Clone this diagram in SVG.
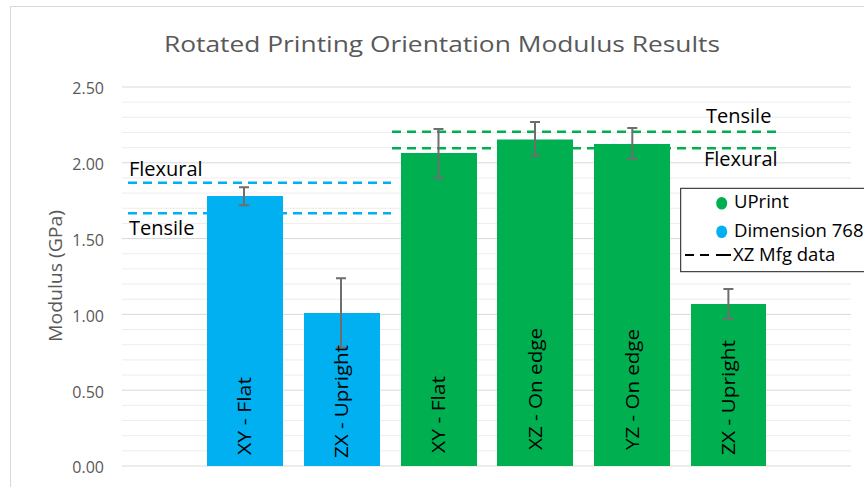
<svg xmlns="http://www.w3.org/2000/svg" width="864" height="487" viewBox="0 0 864 487">
<style>
.minor{stroke:#ededed;stroke-width:1}
.major{stroke:#d9d9d9;stroke-width:1}
.tick{font-family:"Open Sans","DejaVu Sans",sans-serif;font-size:16px;fill:#595959;text-anchor:end}
.lbl{font-family:"Open Sans","DejaVu Sans",sans-serif;font-size:20px;fill:#000}
.cat{font-family:"Open Sans","DejaVu Sans",sans-serif;font-size:19px;fill:#000}
.leg{font-family:"Open Sans","DejaVu Sans",sans-serif;font-size:18.5px;fill:#000}
.blue{fill:#00b0f0}
.green{fill:#00b050}
.dashB{stroke:#00b0f0;stroke-width:2.5;stroke-dasharray:9 6;fill:none}
.dashG{stroke:#00b050;stroke-width:2.5;stroke-dasharray:9 6;fill:none}
.err{stroke:#6e6e6e;stroke-width:2;fill:none}
</style>
<rect x="0" y="0" width="864" height="487" fill="#fff"/>
<rect x="10.5" y="6.5" width="870" height="500" fill="#fff" stroke="#d9d9d9" stroke-width="1"/>
<text x="164" y="52" font-family="'Open Sans','DejaVu Sans',sans-serif" font-size="22" fill="#595959" textLength="556" lengthAdjust="spacingAndGlyphs">Rotated Printing Orientation Modulus Results</text>
<g id="gridlines">
<line class="minor" x1="122" x2="851" y1="450.84" y2="450.84"/>
<line class="minor" x1="122" x2="851" y1="435.68" y2="435.68"/>
<line class="minor" x1="122" x2="851" y1="420.52" y2="420.52"/>
<line class="minor" x1="122" x2="851" y1="405.36" y2="405.36"/>
<line class="minor" x1="122" x2="851" y1="375.04" y2="375.04"/>
<line class="minor" x1="122" x2="851" y1="359.88" y2="359.88"/>
<line class="minor" x1="122" x2="851" y1="344.72" y2="344.72"/>
<line class="minor" x1="122" x2="851" y1="329.56" y2="329.56"/>
<line class="minor" x1="122" x2="851" y1="299.24" y2="299.24"/>
<line class="minor" x1="122" x2="851" y1="284.08" y2="284.08"/>
<line class="minor" x1="122" x2="851" y1="268.92" y2="268.92"/>
<line class="minor" x1="122" x2="851" y1="253.76" y2="253.76"/>
<line class="minor" x1="122" x2="851" y1="223.44" y2="223.44"/>
<line class="minor" x1="122" x2="851" y1="208.28" y2="208.28"/>
<line class="minor" x1="122" x2="851" y1="193.12" y2="193.12"/>
<line class="minor" x1="122" x2="851" y1="177.96" y2="177.96"/>
<line class="minor" x1="122" x2="851" y1="147.64" y2="147.64"/>
<line class="minor" x1="122" x2="851" y1="132.48" y2="132.48"/>
<line class="minor" x1="122" x2="851" y1="117.32" y2="117.32"/>
<line class="minor" x1="122" x2="851" y1="102.16" y2="102.16"/>
<line class="major" x1="122" x2="851" y1="87" y2="87"/>
<line class="major" x1="122" x2="851" y1="162.8" y2="162.8"/>
<line class="major" x1="122" x2="851" y1="238.6" y2="238.6"/>
<line class="major" x1="122" x2="851" y1="314.4" y2="314.4"/>
<line class="major" x1="122" x2="851" y1="390.2" y2="390.2"/>
<line class="major" x1="122" x2="851" y1="466" y2="466"/>
</g>
<g id="y-axis">
<text class="tick" x="104" y="94.3">2.50</text>
<text class="tick" x="104" y="170.1">2.00</text>
<text class="tick" x="104" y="245.9">1.50</text>
<text class="tick" x="104" y="321.7">1.00</text>
<text class="tick" x="104" y="397.5">0.50</text>
<text class="tick" x="104" y="473.3">0.00</text>
<text transform="translate(62,276) rotate(-90)" text-anchor="middle" font-family="'Open Sans','DejaVu Sans',sans-serif" font-size="19" fill="#595959" textLength="132" lengthAdjust="spacingAndGlyphs">Modulus (GPa)</text>
</g>
<g id="connectors">
<line class="dashB" x1="128" x2="391" y1="182.7" y2="182.7"/>
<line class="dashB" x1="128" x2="391" y1="213.3" y2="213.3"/>
<line class="dashG" x1="392" x2="780" y1="131.7" y2="131.7"/>
<line class="dashG" x1="392" x2="780" y1="148.3" y2="148.3"/>
</g>
<g id="bar-blue-xy-flat">
<rect class="blue" x="207" y="196" width="76" height="270"/>
<path class="err" d="M244 187.3V205.3M239 187.3H249M239 205.3H249"/>
<text class="cat" transform="translate(251,455) rotate(-90)" textLength="78" lengthAdjust="spacingAndGlyphs">XY - Flat</text>
</g>
<g id="bar-blue-zx-upright">
<rect class="blue" x="304" y="313" width="76" height="153"/>
<path class="err" d="M341 278.3V347.7M336 278.3H346M336 347.7H346"/>
<text class="cat" transform="translate(348,458) rotate(-90)" textLength="113" lengthAdjust="spacingAndGlyphs">ZX - Upright</text>
</g>
<g id="bar-green-xy-flat">
<rect class="green" x="401" y="153" width="76" height="313"/>
<path class="err" d="M438.5 129V178M433.5 129H443.5M433.5 178H443.5"/>
<text class="cat" transform="translate(445,453) rotate(-90)" textLength="77" lengthAdjust="spacingAndGlyphs">XY - Flat</text>
</g>
<g id="bar-green-xz-on-edge">
<rect class="green" x="497" y="139.5" width="76" height="326.5"/>
<path class="err" d="M535 122V155.7M530 122H540M530 155.7H540"/>
<text class="cat" transform="translate(542,450) rotate(-90)" textLength="122" lengthAdjust="spacingAndGlyphs">XZ - On edge</text>
</g>
<g id="bar-green-yz-on-edge">
<rect class="green" x="594" y="144" width="76" height="322"/>
<path class="err" d="M632.3 128V159M627.3 128H637.3M627.3 159H637.3"/>
<text class="cat" transform="translate(639,450) rotate(-90)" textLength="121" lengthAdjust="spacingAndGlyphs">YZ - On edge</text>
</g>
<g id="bar-green-zx-upright">
<rect class="green" x="691" y="304" width="75" height="162"/>
<path class="err" d="M728.4 289V319M723.4 289H733.4M723.4 319H733.4"/>
<text class="cat" transform="translate(735,455) rotate(-90)" textLength="115" lengthAdjust="spacingAndGlyphs">ZX - Upright</text>
</g>
<g id="labels">
<text class="lbl" x="129" y="176">Flexural</text>
<text class="lbl" x="129" y="235">Tensile</text>
<text class="lbl" x="706" y="122.7">Tensile</text>
<text class="lbl" x="704" y="166">Flexural</text>
</g>
<g id="legend">
<rect x="680.7" y="188.3" width="200" height="83.4" fill="#fff" stroke="#1a1a1a" stroke-width="1"/>
<ellipse cx="721.7" cy="203.3" rx="5.5" ry="6.3" fill="#00b050"/>
<text class="leg" x="734" y="208.3">UPrint</text>
<ellipse cx="721.7" cy="231.7" rx="5.5" ry="6.3" fill="#00b0f0"/>
<text class="leg" x="734" y="236.7">Dimension 768</text>
<path d="M685 255H694M700 255H709M716 255H731" stroke="#000" stroke-width="2" fill="none"/>
<text class="leg" x="733" y="260.7">XZ Mfg data</text>
</g>
</svg>
